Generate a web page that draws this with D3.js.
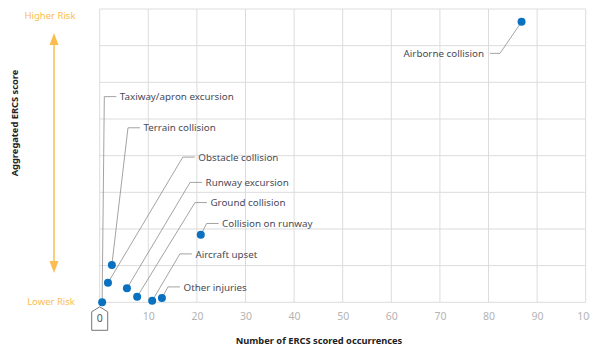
<!DOCTYPE html>
<html>
<head>
<meta charset="utf-8">
<script src="https://cdn.jsdelivr.net/npm/d3@7"></script>
<style>
  body { margin: 0; background: #fff; }
  svg { font-family: 'Noto Sans', sans-serif; }
</style>
</head>
<body>
<div id="chart-area"></div>
<script>

// data
const categories = ['Airborne collision', 'Taxiway/apron excursion', 'Terrain collision',
	'Obstacle collision', 'Runway excursion', 'Ground collision', 'Collision on runway',
	'Aircraft upset', 'Other injuries'];
const occurrences = [86.8, 0.5, 2.5, 1.7, 5.6, 7.7, 20.8, 10.8, 12.8];
const ercsScores = [7.65, 0, 1.02, 0.53, 0.38, 0.15, 1.84, 0.04, 0.12];
const xTicks = [0, 10, 20, 30, 40, 50, 60, 70, 80, 90, 100];
const yGrid = [0, 1, 2, 3, 4, 5, 6, 7, 8];

// label elbows, in data units
const labelAt = {
	'Airborne collision': [80.3, 6.79, 'left'],
	'Taxiway/apron excursion': [0.95, 5.61],
	'Terrain collision': [5.82, 4.76],
	'Obstacle collision': [17.1, 3.96],
	'Runway excursion': [18.6, 3.27],
	'Ground collision': [19.6, 2.72],
	'Collision on runway': [22.0, 2.15],
	'Aircraft upset': [16.5, 1.32],
	'Other injuries': [14.05, 0.42]
};

let margin = { left: 99.7, right: 4.3, top: 9, bottom: 44.7 };
let width = 590 - margin.left - margin.right;
let height = 347 - margin.top - margin.bottom;

const svg = d3.select('#chart-area').append('svg')
	.attr('width', 590)
	.attr('height', 347);

let g = svg.append('g')
	.attr('transform', 'translate(' + margin.left + ', ' + margin.top + ')');

let x = d3.scaleLinear().domain([0, 100]).range([0, width]);
let y = d3.scaleLinear().domain([0, 8]).range([height, 0]);

// grid
g.selectAll('.vgrid').data(xTicks).enter().append('line')
	.attr('x1', d => x(d)).attr('x2', d => x(d))
	.attr('y1', 0).attr('y2', height)
	.attr('stroke', '#dcdcdc').attr('stroke-width', 1);
g.selectAll('.hgrid').data(yGrid).enter().append('line')
	.attr('x1', 0).attr('x2', width)
	.attr('y1', d => y(d)).attr('y2', d => y(d))
	.attr('stroke', '#dcdcdc').attr('stroke-width', 1);

// x axis
let xAxisCall = d3.axisBottom(x).tickValues(xTicks.slice(1)).tickSize(0).tickPadding(10);
let xAxis = g.append('g')
	.attr('transform', 'translate(0, ' + height + ')')
	.call(xAxisCall);
xAxis.select('.domain').remove();
xAxis.selectAll('text')
	.attr('fill', '#b4b4b4')
	.attr('font-size', '10.5px')
	.attr('font-family', "'Noto Sans', sans-serif");

// the boxed zero
let zx = x(0);
g.append('path')
	.attr('d', 'M' + (zx - 8) + ',' + (height + 9.5) + 'L' + zx + ',' + (height + 4.5)
		+ 'L' + (zx + 8) + ',' + (height + 9.5) + 'L' + (zx + 8) + ',' + (height + 28)
		+ 'L' + (zx - 8) + ',' + (height + 28) + 'Z')
	.attr('fill', '#fff').attr('stroke', '#666').attr('stroke-width', 0.9);
g.append('text')
	.attr('x', zx).attr('y', height + 20)
	.attr('text-anchor', 'middle')
	.attr('font-size', '10.5px').attr('fill', '#555')
	.text('0');

// axis labels
g.append('text')
	.attr('x', 319 - margin.left)
	.attr('y', 344 - margin.top)
	.attr('font-size', '9.3px').attr('font-weight', 'bold')
	.attr('text-anchor', 'middle').attr('fill', '#222')
	.text('Number of ERCS scored occurrences');
g.append('text')
	.attr('x', -(123 - margin.top))
	.attr('y', 18 - margin.left)
	.attr('transform', 'rotate(-90)')
	.attr('font-size', '9.3px').attr('font-weight', 'bold')
	.attr('text-anchor', 'middle').attr('fill', '#222')
	.text('Aggregated ERCS score');

// risk arrow
const orange = '#fbbd4f';
svg.append('text').attr('x', 50).attr('y', 18.5).attr('text-anchor', 'middle')
	.attr('font-size', '9.5px').attr('fill', orange).text('Higher Risk');
svg.append('text').attr('x', 51).attr('y', 304.5).attr('text-anchor', 'middle')
	.attr('font-size', '9.5px').attr('fill', orange).text('Lower Risk');
svg.append('line').attr('x1', 54).attr('x2', 54).attr('y1', 42).attr('y2', 264)
	.attr('stroke', orange).attr('stroke-width', 1.5);
svg.append('path').attr('d', 'M54,33L58.5,45L49.5,45Z').attr('fill', orange);
svg.append('path').attr('d', 'M54,273L58.5,261L49.5,261Z').attr('fill', orange);

// leaders and labels
let rows = categories.map((c, i) => ({ name: c, n: occurrences[i], s: ercsScores[i] }));
rows.forEach(d => {
	let p = labelAt[d.name];
	let ex = x(p[0]), ey = y(p[1]);
	let left = p[2] === 'left';
	let hx = left ? ex + 10 : ex + 12;
	g.append('path')
		.attr('d', 'M' + x(d.n) + ',' + y(d.s) + 'L' + (left ? hx : ex) + ',' + ey
			+ 'L' + (left ? ex : hx) + ',' + ey)
		.attr('fill', 'none').attr('stroke', '#8c8c8c').attr('stroke-width', 0.8);
	g.append('text')
		.attr('x', left ? ex - 6 : ex + 15.5)
		.attr('y', ey + 3.6)
		.attr('text-anchor', left ? 'end' : 'start')
		.attr('font-size', '9.8px').attr('fill', '#4a4a58')
		.text(d.name);
});

// points
g.selectAll('circle').data(rows).enter().append('circle')
	.attr('cx', d => x(d.n))
	.attr('cy', d => y(d.s))
	.attr('r', 4)
	.attr('fill', '#0a71c1');

</script>
</body>
</html>
